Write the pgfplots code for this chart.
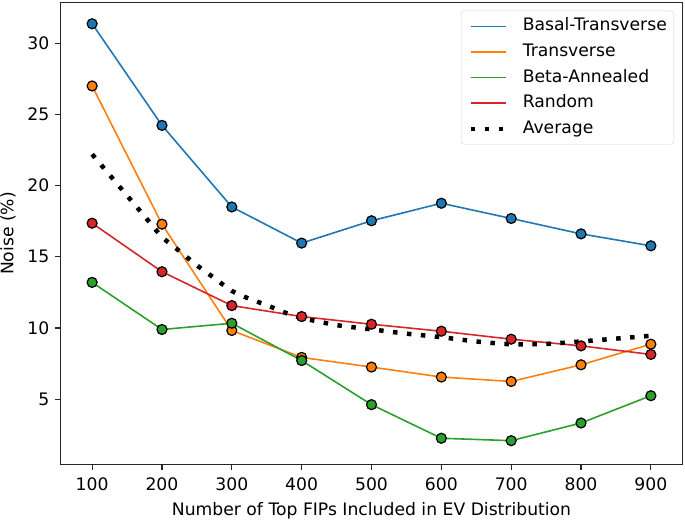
\documentclass[border=0pt]{standalone}
\usepackage{pgfplots}
\pgfplotsset{compat=1.18}
\usepackage{fontspec}
\setmainfont{DejaVu Sans}
\definecolor{tabblue}{HTML}{1F77B4}
\definecolor{taborange}{HTML}{FF7F0E}
\definecolor{tabgreen}{HTML}{2CA02C}
\definecolor{tabred}{HTML}{D62728}
\begin{document}
\fontsize{17.2}{20}\selectfont
\begin{tikzpicture}
\begin{axis}[
  at={(0pt,0pt)}, anchor=south west,
  scale only axis, width=621.6pt, height=461.6pt,
  xmin=55, xmax=945, ymin=0.42, ymax=32.85,
  xtick={100,200,...,900}, ytick={5,10,...,30},
  tick align=outside, tick pos=left,
  major tick length=5.5pt,
  every tick/.style={black!85, line width=1.2pt},
  axis line style={black!85, line width=1.2pt},
  /pgf/number format/assume math mode=true,
  tick label style={font=\fontsize{17.2}{20}\selectfont},
  xticklabel style={yshift=-2pt},
  label style={font=\fontsize{17.2}{20}\selectfont},
  xlabel={Number of Top FIPs Included in EV Distribution},
  ylabel={Noise (\%)},
  legend cell align=left,
  legend image code/.code={\draw[#1] (0pt,0pt) -- (35.6pt,0pt);},
  legend style={at={(0.9867,0.9827)}, anchor=north east,
    draw=black!18, rounded corners=3pt, fill=white,
    font=\fontsize{17.2}{20}\selectfont,
    inner xsep=7pt, inner ysep=7pt,
    column sep=14.4pt, row sep=8.6pt,
    nodes={inner sep=0pt, text height=13pt, text depth=4pt}},
]
\addplot[tabblue, line width=1.6pt] coordinates {(100,31.37) (200,24.23) (300,18.5) (400,15.96) (500,17.53) (600,18.76) (700,17.69) (800,16.61) (900,15.77)};
\addlegendentry{Basal-Transverse}
\addplot[taborange, line width=1.6pt] coordinates {(100,27.0) (200,17.29) (300,9.82) (400,7.93) (500,7.25) (600,6.55) (700,6.24) (800,7.41) (900,8.86)};
\addlegendentry{Transverse}
\addplot[tabgreen, line width=1.6pt] coordinates {(100,13.2) (200,9.89) (300,10.33) (400,7.71) (500,4.61) (600,2.25) (700,2.08) (800,3.32) (900,5.24)};
\addlegendentry{Beta-Annealed}
\addplot[tabred, line width=1.6pt] coordinates {(100,17.36) (200,13.95) (300,11.57) (400,10.8) (500,10.26) (600,9.77) (700,9.21) (800,8.74) (900,8.14)};
\addlegendentry{Random}
\addplot[black, line width=4.5pt, dash pattern=on 4.5pt off 9.5pt, smooth, tension=0.4] coordinates {(100,22.2) (125,20.75) (150,19.3) (175,17.85) (200,16.4) (225,15.4) (250,14.4) (275,13.5) (300,12.6) (325,12.05) (350,11.6) (375,11.1) (400,10.7) (450,10.2) (500,9.9) (550,9.6) (600,9.35) (650,9.05) (700,8.85) (750,8.88) (800,9.05) (850,9.25) (900,9.45)};
\addlegendentry{Average}
\addplot[only marks, mark=*, mark size=5pt, mark options={fill=tabblue, draw=black, line width=1.2pt}, forget plot] coordinates {(100,31.37) (200,24.23) (300,18.5) (400,15.96) (500,17.53) (600,18.76) (700,17.69) (800,16.61) (900,15.77)};
\addplot[only marks, mark=*, mark size=5pt, mark options={fill=taborange, draw=black, line width=1.2pt}, forget plot] coordinates {(100,27.0) (200,17.29) (300,9.82) (400,7.93) (500,7.25) (600,6.55) (700,6.24) (800,7.41) (900,8.86)};
\addplot[only marks, mark=*, mark size=5pt, mark options={fill=tabgreen, draw=black, line width=1.2pt}, forget plot] coordinates {(100,13.2) (200,9.89) (300,10.33) (400,7.71) (500,4.61) (600,2.25) (700,2.08) (800,3.32) (900,5.24)};
\addplot[only marks, mark=*, mark size=5pt, mark options={fill=tabred, draw=black, line width=1.2pt}, forget plot] coordinates {(100,17.36) (200,13.95) (300,11.57) (400,10.8) (500,10.26) (600,9.77) (700,9.21) (800,8.74) (900,8.14)};
\end{axis}
\pgfresetboundingbox
\path[use as bounding box] (-60.7pt,-55.7pt) rectangle (624.3pt,464.3pt);
\end{tikzpicture}
\end{document}
